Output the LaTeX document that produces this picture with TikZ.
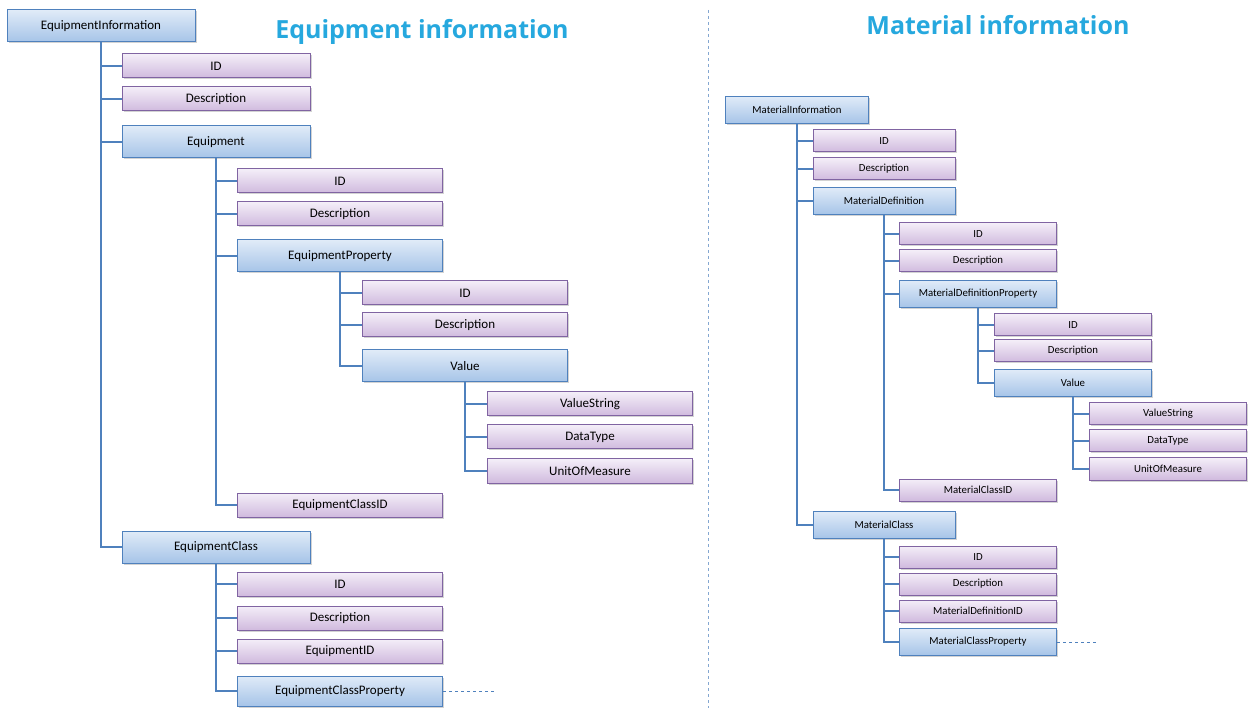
\documentclass[tikz,border=0pt]{standalone}
\usepackage{fontspec}
\setmainfont{Carlito}
\newfontfamily\titlefont{Open Sans}
\usepackage{tikz}
\usetikzlibrary{shadows}
\definecolor{box-blue}{RGB}{79,129,189}
\definecolor{blue-top}{RGB}{224,235,248}
\definecolor{blue-bot}{RGB}{166,196,232}
\definecolor{box-purple}{RGB}{128,100,162}
\definecolor{purple-top}{RGB}{244,238,248}
\definecolor{purple-bot}{RGB}{208,186,222}
\definecolor{title-cyan}{RGB}{38,168,222}
\tikzset{
    any-box/.style = {rectangle, inner sep=0pt, line width=1pt, drop shadow={opacity=0.35, shadow xshift=1.5pt, shadow yshift=-1.5pt}},
    blue-box/.style = {any-box, draw=box-blue, top color=blue-top, bottom color=blue-bot},
    purple-box/.style = {any-box, draw=box-purple, top color=purple-top, bottom color=purple-bot},
    left-blue/.style = {blue-box, minimum height=32pt, font=\fontsize{13}{15}\selectfont},
    left-purple/.style = {purple-box, minimum height=24pt, font=\fontsize{13}{15}\selectfont},
    right-blue/.style = {blue-box, minimum height=27pt, font=\fontsize{10.8}{12}\selectfont},
    right-purple/.style = {purple-box, minimum height=22pt, font=\fontsize{10.8}{12}\selectfont},
    tree-line/.style = {draw=box-blue, line width=1.5pt},
    title-text/.style = {text=title-cyan, font=\titlefont\bfseries\fontsize{25}{28}\selectfont},
}
\begin{document}
\begin{tikzpicture}[x=1pt, y=-1pt]
\useasboundingbox (0,0) rectangle (1248,708);
\draw[box-blue!70, thin, dashed] (708,10) -- (708,708);

% equipment side
\node[title-text] (eq-title) at (422,32) {Equipment information};
\node[left-blue, minimum width=188pt] (ei) at (101,26) {EquipmentInformation};
\node[left-purple, minimum width=188pt] (ei-id) at (216,66) {ID};
\node[left-purple, minimum width=188pt] (ei-desc) at (216,99) {Description};
\node[left-blue, minimum width=188pt] (eq) at (216,142) {Equipment};
\node[left-blue, minimum width=188pt] (ec) at (216,547) {EquipmentClass};

\node[left-purple, minimum width=205pt] (eq-id) at (340,181) {ID};
\node[left-purple, minimum width=205pt] (eq-desc) at (340,214) {Description};
\node[left-blue, minimum width=205pt] (ep) at (340,256) {EquipmentProperty};
\node[left-purple, minimum width=205pt] (eq-cid) at (340,505) {EquipmentClassID};

\node[left-purple, minimum width=205pt] (ep-id) at (465,293) {ID};
\node[left-purple, minimum width=205pt] (ep-desc) at (465,325) {Description};
\node[left-blue, minimum width=205pt] (ep-val) at (465,366) {Value};

\node[left-purple, minimum width=205pt] (ev-str) at (590,404) {ValueString};
\node[left-purple, minimum width=205pt] (ev-type) at (590,437) {DataType};
\node[left-purple, minimum width=205pt] (ev-uom) at (590,471) {UnitOfMeasure};

\node[left-purple, minimum width=205pt] (ec-id) at (340,584) {ID};
\node[left-purple, minimum width=205pt] (ec-desc) at (340,618) {Description};
\node[left-purple, minimum width=205pt] (ec-eid) at (340,651) {EquipmentID};
\node[left-blue, minimum width=205pt, minimum height=30pt] (ec-prop) at (340,691) {EquipmentClassProperty};
\coordinate (ec-tail) at (495,691);

\foreach \c in {ei-id,ei-desc,eq,ec} \draw[tree-line] (ei.south) |- (\c.west);
\foreach \c in {eq-id,eq-desc,ep,eq-cid} \draw[tree-line] (eq.south) |- (\c.west);
\foreach \c in {ep-id,ep-desc,ep-val} \draw[tree-line] (ep.south) |- (\c.west);
\foreach \c in {ev-str,ev-type,ev-uom} \draw[tree-line] (ep-val.south) |- (\c.west);
\foreach \c in {ec-id,ec-desc,ec-eid,ec-prop} \draw[tree-line] (ec.south) |- (\c.west);
\draw[box-blue, thick, dashed] (ec-prop.east) -- (ec-tail);

% material side
\node[title-text] (ma-title) at (998,25) {Material information};
\node[right-blue, minimum width=143pt] (mi) at (797,110) {MaterialInformation};
\node[right-purple, minimum width=142pt] (mi-id) at (884,141) {ID};
\node[right-purple, minimum width=142pt] (mi-desc) at (884,169) {Description};
\node[right-blue, minimum width=142pt] (md) at (884,201) {MaterialDefinition};
\node[right-blue, minimum width=142pt] (mc) at (884,525) {MaterialClass};

\node[right-purple, minimum width=157pt] (md-id) at (978,234) {ID};
\node[right-purple, minimum width=157pt] (md-desc) at (978,261) {Description};
\node[right-blue, minimum width=157pt] (mdp) at (978,294) {MaterialDefinitionProperty};
\node[right-purple, minimum width=157pt] (md-cid) at (978,490) {MaterialClassID};

\node[right-purple, minimum width=157pt] (mdp-id) at (1073,325) {ID};
\node[right-purple, minimum width=157pt] (mdp-desc) at (1073,351) {Description};
\node[right-blue, minimum width=157pt] (mdp-val) at (1073,383) {Value};

\node[right-purple, minimum width=157pt] (mv-str) at (1168,414) {ValueString};
\node[right-purple, minimum width=157pt] (mv-type) at (1168,441) {DataType};
\node[right-purple, minimum width=157pt] (mv-uom) at (1168,469) {UnitOfMeasure};

\node[right-purple, minimum width=157pt] (mc-id) at (978,557) {ID};
\node[right-purple, minimum width=157pt] (mc-desc) at (978,584) {Description};
\node[right-purple, minimum width=157pt] (mc-mdid) at (978,611) {MaterialDefinitionID};
\node[right-blue, minimum width=157pt] (mc-prop) at (978,642) {MaterialClassProperty};
\coordinate (mc-tail) at (1097,642);

\foreach \c in {mi-id,mi-desc,md,mc} \draw[tree-line] (mi.south) |- (\c.west);
\foreach \c in {md-id,md-desc,mdp,md-cid} \draw[tree-line] (md.south) |- (\c.west);
\foreach \c in {mdp-id,mdp-desc,mdp-val} \draw[tree-line] (mdp.south) |- (\c.west);
\foreach \c in {mv-str,mv-type,mv-uom} \draw[tree-line] (mdp-val.south) |- (\c.west);
\foreach \c in {mc-id,mc-desc,mc-mdid,mc-prop} \draw[tree-line] (mc.south) |- (\c.west);
\draw[box-blue, thick, dashed] (mc-prop.east) -- (mc-tail);
\end{tikzpicture}
\end{document}
